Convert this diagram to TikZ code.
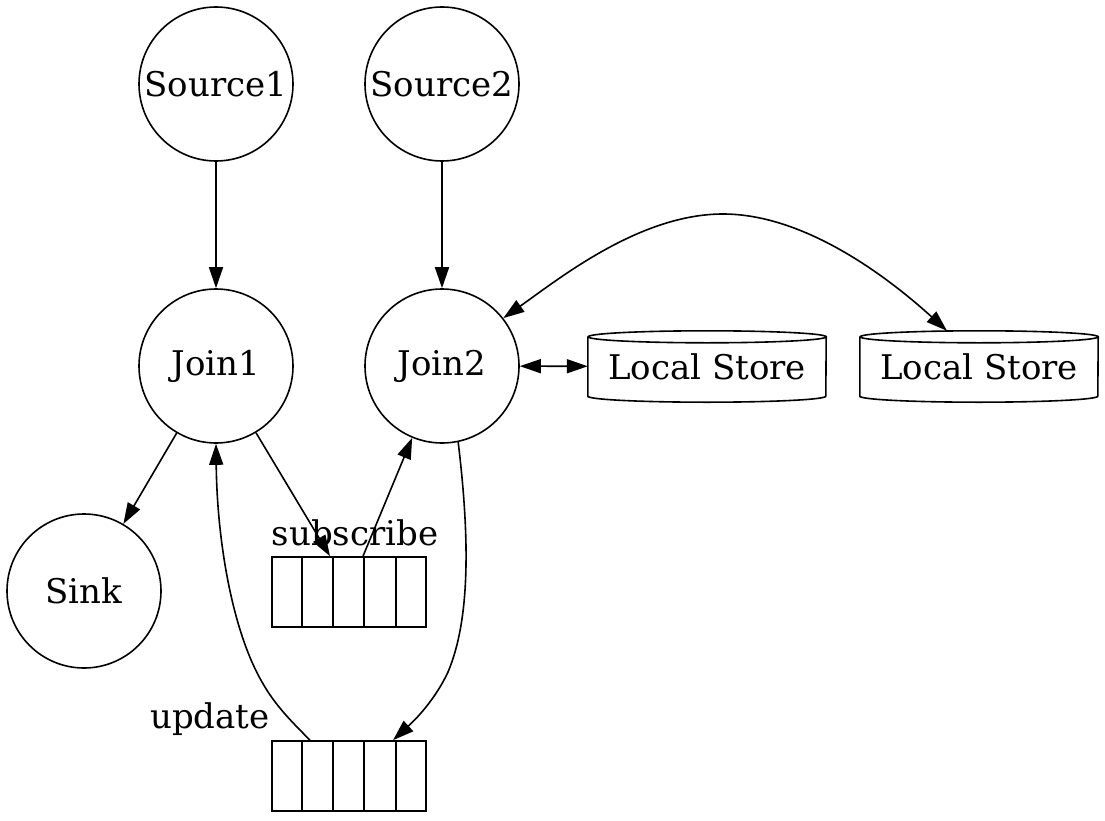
\documentclass[tikz,border=0pt]{standalone}
\usepackage{fontspec}
\setmainfont{DejaVu Serif}
\usetikzlibrary{arrows.meta,calc}
\begin{document}
\begin{tikzpicture}[x=1pt,y=-1pt,
  every node/.style={font=\fontsize{34}{40}\selectfont},
  circ/.style={circle,draw,line width=1.6pt,minimum size=154pt,inner sep=0pt},
  store/.style={rectangle,draw=none,minimum width=238pt,minimum height=71pt,inner sep=0pt},
  queue/.style={rectangle,draw,line width=1.6pt,minimum width=154pt,minimum height=70pt,inner sep=0pt},
  lbl/.style={anchor=base,inner sep=0pt},
  tip/.tip={Triangle[length=21pt,width=14pt]},
  arr/.style={line width=1.6pt,-tip},
  biarr/.style={line width=1.6pt,tip-tip}]
\useasboundingbox (0,0) rectangle (1105,821);
\fill[white] (0,0) rectangle (1105,821);

\node[circ] (s1) at (216,84) {Source1};
\node[circ] (s2) at (442,84) {Source2};
\node[circ] (j1) at (216,366) {Join1};
\node[circ] (j2) at (442,366) {Join2};
\node[circ] (sink) at (84,591) {Sink};

\node[store] (ls1) at (707,366.5) {Local Store};
\node[store] (ls2) at (979,366.5) {Local Store};
\foreach \n in {ls1,ls2}{
  \draw[line width=1.6pt] ([yshift=-6pt]\n.north west) -- ([yshift=6pt]\n.south west)
    arc[start angle=180,end angle=360,x radius=119pt,y radius=6pt]
    -- ([yshift=-6pt]\n.north east)
    arc[start angle=0,end angle=180,x radius=119pt,y radius=6pt]
    arc[start angle=180,end angle=360,x radius=119pt,y radius=6pt];
}

\node[queue] (q1) at (349,592) {};
\node[queue] (q2) at (349,776) {};
\foreach \n in {q1,q2}{
  \foreach \d in {31,62,93,124.5}{
    \draw[line width=1.6pt] ([xshift=\d pt]\n.north west) -- ([xshift=\d pt]\n.south west);
  }
}
\node[lbl] (lsub) at (355,545) {subscribe};
\node[lbl] (lupd) at (210,728) {update};

\draw[arr] (s1) -- (j1);
\draw[arr] (s2) -- (j2);
\draw[arr] (j1) -- (sink);
\draw[arr] (j1) -- ([xshift=-19pt]q1.north);
\draw[arr] ([xshift=14pt]q1.north) -- (j2);
\draw[arr] (j2.-78) .. controls (470,540) and (470,620) .. (448,672)
  .. controls (435,700) and (415,720) .. ([xshift=44pt]q2.north);
\draw[arr] ([xshift=-39pt]q2.north) .. controls (290,720) and (275,705) .. (262,682)
  .. controls (232,630) and (217,540) .. (j1.south);
\draw[biarr] (j2) -- (ls1);
\draw[biarr] (j2.38) .. controls (560,278) and (640,214) .. (723,214)
  .. controls (800,214) and (880,270) .. ([xshift=-32pt]ls2.north);
\end{tikzpicture}
\end{document}
